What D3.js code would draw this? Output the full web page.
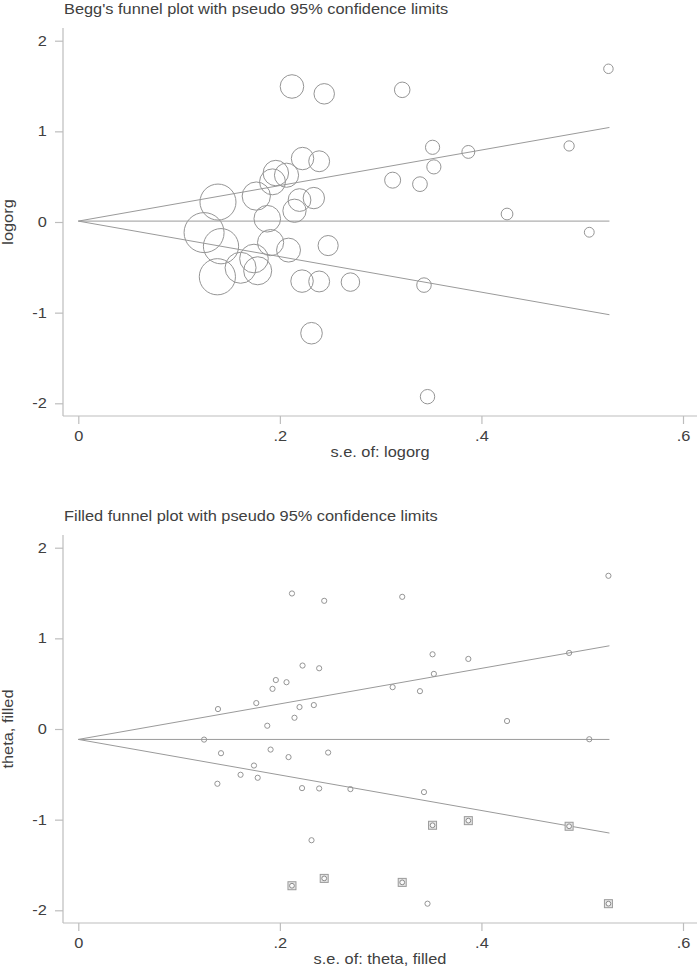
<!DOCTYPE html>
<html>
<head>
<meta charset="utf-8">
<script src="https://cdn.jsdelivr.net/npm/d3@7"></script>
<style>
  html, body { margin: 0; padding: 0; background: #fff; }
  svg { display: block; }
  text { font-family: "Liberation Sans", Arial, Helvetica, sans-serif; fill: #404040; }
</style>
</head>
<body>
<svg id="chart" width="700" height="967"></svg>
<script>
// ---- data ----
const studySE = [0.212, 0.244, 0.2225, 0.239, 0.196, 0.2066, 0.1927, 0.1386, 0.1766, 0.2195,
  0.2337, 0.2145, 0.1875, 0.1248, 0.1416, 0.1908, 0.2086, 0.2479, 0.3214, 0.526,
  0.3515, 0.387, 0.487, 0.3528, 0.3119, 0.339, 0.4254, 0.507, 0.138, 0.161,
  0.1743, 0.178, 0.222, 0.239, 0.27, 0.343, 0.2314, 0.3465];
const logorg = [1.495, 1.414, 0.70, 0.67, 0.54, 0.516, 0.443, 0.22, 0.286, 0.242,
  0.264, 0.124, 0.036, -0.117, -0.267, -0.227, -0.31, -0.26, 1.458, 1.69,
  0.824, 0.773, 0.839, 0.608, 0.4615, 0.4175, 0.088, -0.113, -0.604, -0.505,
  -0.403, -0.538, -0.652, -0.656, -0.663, -0.696, -1.227, -1.927];
const filledSE = [0.212, 0.244, 0.3214, 0.3515, 0.387, 0.487, 0.526];
const filledTheta = [-1.729, -1.648, -1.692, -1.062, -1.011, -1.073, -1.927];

const beggCenter = 0.01;      // pooled estimate, Begg's plot
const filledCenter = -0.115;  // pooled estimate after trim and fill
const funnelSE = [0, 0.527];  // range of pseudo confidence limits
const zCrit = 1.96;

const xTickValues = [0, 0.2, 0.4, 0.6];
const xTickLabels = ["0", ".2", ".4", ".6"];
const yTickValues = [-2, -1, 0, 1, 2];
const yTickLabels = ["-2", "-1", "0", "1", "2"];

const titles = ["Begg's funnel plot with pseudo 95% confidence limits",
                "Filled funnel plot with pseudo 95% confidence limits"];
const xTitles = ["s.e. of: logorg", "s.e. of: theta, filled"];
const yTitles = ["logorg", "theta, filled"];

// ---- drawing ----
const svg = d3.select("#chart");
const AXIS = "#bdbdbd", LINE = "#9a9a9a", MARK = "#959595";
const FS = 14, STRETCH = 1.17;   // text is drawn slightly wide, as in the reference

function wideText(g, x, y, str, anchor, rotate) {
  const rot = rotate ? ` rotate(${rotate})` : "";
  return g.append("text")
    .attr("transform", `translate(${x},${y})${rot} scale(${STRETCH},1)`)
    .attr("text-anchor", anchor || "start").attr("font-size", FS).text(str);
}

function panel(opts) {
  const g = svg.append("g");
  const left = 63, right = 697;
  const x = d3.scaleLinear().domain([0, 0.6]).range([78.3, 683]);
  const y = d3.scaleLinear().domain([-2, 2]).range([opts.top + 375.3, opts.top + 12.7]);
  const plotTop = opts.top, plotBottom = opts.top + 388;

  // title
  wideText(g, 64, opts.top - 14, opts.title, "start");

  // axis lines
  g.append("line").attr("x1", left).attr("x2", left).attr("y1", plotTop).attr("y2", plotBottom)
    .attr("stroke", AXIS).attr("stroke-width", 1.2);
  g.append("line").attr("x1", left).attr("x2", right).attr("y1", plotBottom).attr("y2", plotBottom)
    .attr("stroke", AXIS).attr("stroke-width", 1.2);

  const yAxis = d3.axisLeft(y).tickValues(yTickValues)
    .tickFormat((d, i) => yTickLabels[i]).tickSize(8).tickPadding(5.8);
  const ya = g.append("g").attr("transform", `translate(${left},0)`).call(yAxis);
  ya.select(".domain").remove();
  ya.selectAll("line").attr("stroke", AXIS).attr("stroke-width", 1.2);
  ya.selectAll("text").attr("font-size", FS).attr("fill", "#404040")
    .attr("transform", `scale(${STRETCH},1)`)
    .style("font-family", '"Liberation Sans", Arial, sans-serif');

  const xAxis = d3.axisBottom(x).tickValues(xTickValues)
    .tickFormat((d, i) => xTickLabels[i]).tickSize(8).tickPadding(7);
  const xa = g.append("g").attr("transform", `translate(0,${plotBottom})`).call(xAxis);
  xa.select(".domain").remove();
  xa.selectAll("line").attr("stroke", AXIS).attr("stroke-width", 1.2);
  xa.selectAll("text").attr("font-size", FS).attr("fill", "#404040")
    .attr("transform", `scale(${STRETCH},1)`)
    .style("font-family", '"Liberation Sans", Arial, sans-serif');

  // axis titles
  wideText(g, (left + right) / 2, plotBottom + 41, opts.xTitle, "middle");
  wideText(g, 13, (plotTop + plotBottom) / 2, opts.yTitle, "middle", -90);

  // funnel lines
  const c = opts.center;
  const lines = [
    [[funnelSE[0], c], [funnelSE[1], c]],
    [[funnelSE[0], c], [funnelSE[1], c + zCrit * funnelSE[1]]],
    [[funnelSE[0], c], [funnelSE[1], c - zCrit * funnelSE[1]]]
  ];
  const lineGen = d3.line().x(d => x(d[0])).y(d => y(d[1]));
  g.selectAll("path.funnel").data(lines).join("path").attr("class", "funnel")
    .attr("d", lineGen).attr("fill", "none").attr("stroke", LINE).attr("stroke-width", 1);

  return { g, x, y };
}

// Top: Begg's plot with weighted circles
const p1 = panel({ top: 28, title: titles[0], xTitle: xTitles[0], yTitle: yTitles[0], center: beggCenter });
const weights = studySE.map(s => 1 / (s * s));
const r = d3.scaleSqrt().domain([0, d3.max(weights)]).range([0, 20]);
p1.g.selectAll("circle.study").data(studySE).join("circle").attr("class", "study")
  .attr("cx", d => p1.x(d)).attr("cy", (d, i) => p1.y(logorg[i]))
  .attr("r", (d, i) => r(weights[i]))
  .attr("fill", "none").attr("stroke", MARK).attr("stroke-width", 1);

// Bottom: filled funnel plot
const p2 = panel({ top: 535, title: titles[1], xTitle: xTitles[1], yTitle: yTitles[1], center: filledCenter });
p2.g.selectAll("circle.study").data(studySE).join("circle").attr("class", "study")
  .attr("cx", d => p2.x(d)).attr("cy", (d, i) => p2.y(logorg[i]))
  .attr("r", 2.6).attr("fill", "none").attr("stroke", MARK).attr("stroke-width", 1);
p2.g.selectAll("rect.filled").data(filledSE).join("rect").attr("class", "filled")
  .attr("x", d => p2.x(d) - 4).attr("y", (d, i) => p2.y(filledTheta[i]) - 4)
  .attr("width", 8).attr("height", 8)
  .attr("fill", "#e6e6e6").attr("stroke", "#9a9a9a").attr("stroke-width", 1);
p2.g.selectAll("circle.filled").data(filledSE).join("circle").attr("class", "filled")
  .attr("cx", d => p2.x(d)).attr("cy", (d, i) => p2.y(filledTheta[i]))
  .attr("r", 2.4).attr("fill", "#fafafa").attr("stroke", "#8a8a8a").attr("stroke-width", 1);
</script>
</body>
</html>
